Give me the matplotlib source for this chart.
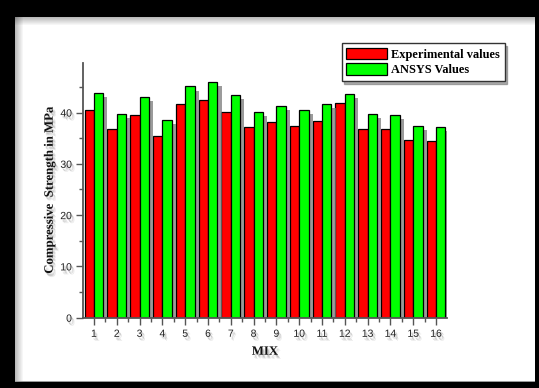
import numpy as np
import matplotlib
matplotlib.use("Agg")
import matplotlib.pyplot as plt
import matplotlib.patheffects as pe
import matplotlib.colors as mcolors
from matplotlib.transforms import Affine2D
from matplotlib.patches import Rectangle
from matplotlib.ticker import MultipleLocator

# Compressive strength per mix (MPa)
mix = np.arange(1, 17)
experimental = [40.5, 36.8, 39.6, 35.5, 41.7, 42.4, 40.2, 37.1,
                38.1, 37.4, 38.4, 41.9, 36.8, 36.7, 34.7, 34.4]
ansys = [43.9, 39.8, 43.0, 38.6, 45.1, 45.9, 43.5, 40.2,
         41.3, 40.5, 41.6, 43.7, 39.8, 39.6, 37.4, 37.2]
mix_labels = [str(m) for m in mix]
y_ticks = [0, 10, 20, 30, 40]

W, H = 539, 388
fig = plt.figure(figsize=(W / 100, H / 100), dpi=100, facecolor="black")


class SoftShadow(pe.AbstractPathEffect):
    """Gray drop shadow made of a few offset copies (offsets in pixels)."""

    def __init__(self, color="#555555", offsets=((2, -3, 0.2), (3, -4, 0.12), (1.5, -2, 0.12))):
        super().__init__()
        self.color = color
        self.offsets = offsets

    def draw_path(self, renderer, gc, tpath, affine, rgbFace=None):
        for dx, dy, a in self.offsets:
            gc0 = renderer.new_gc()
            gc0.copy_properties(gc)
            gc0.set_foreground(self.color)
            gc0.set_alpha(a)
            rgb = mcolors.to_rgba(self.color, a)
            renderer.draw_path(gc0, tpath, affine + Affine2D().translate(dx, dy), rgb)
            gc0.restore()


text_shadow = [SoftShadow(), pe.Normal()]


# white page inside the black frame, with a soft inner shadow on top/left
def px_rect(x0, y0, x1, y1, **kw):
    fig.patches.append(Rectangle((x0 / W, 1 - y1 / H), (x1 - x0) / W, (y1 - y0) / H,
                                 transform=fig.transFigure, figure=fig, **kw))

px_rect(15, 17, 535, 382, facecolor="white", edgecolor="none", zorder=-10)
for i in range(8):
    a = 0.27 * (1 - i / 8)
    px_rect(15 + i, 17, 16 + i, 382, facecolor=(0, 0, 0, a), edgecolor="none", zorder=-9)
    px_rect(15, 17 + i, 535, 18 + i, facecolor=(0, 0, 0, a), edgecolor="none", zorder=-9)
px_rect(15, 380.5, 535, 382, facecolor="#9a9a9a", edgecolor="none", zorder=-9)

ax = fig.add_axes([83 / W, 1 - 317.7 / H, (447 - 83) / W, (317.7 - 63.3) / H])
ax.set_facecolor("none")

shadow = [pe.SimplePatchShadow(offset=(3, -3), shadow_rgbFace="#7a7a7a", alpha=0.75), pe.Normal()]

w = 0.41
b1 = ax.bar(mix - w / 2, experimental, width=w, color="#ff0000", edgecolor="black",
            linewidth=0.9, label="Experimental values")
b2 = ax.bar(mix + w / 2, ansys, width=w, color="#00ff00", edgecolor="black",
            linewidth=0.9, label="ANSYS Values")
for bar in list(b1) + list(b2):
    bar.set_path_effects(shadow)

ax.set_xlim(0.52, 16.48)
ax.set_ylim(0, 49.6)
ax.set_xticks(mix)
ax.set_xticklabels(mix_labels)
ax.xaxis.set_minor_locator(MultipleLocator(0.5))
ax.set_yticks(y_ticks)
ax.set_yticklabels([str(v) for v in y_ticks])
ax.yaxis.set_minor_locator(MultipleLocator(5))

for s in ["top", "right"]:
    ax.spines[s].set_visible(False)
for s in ["left", "bottom"]:
    ax.spines[s].set_color("#555555")
    ax.spines[s].set_linewidth(1.3)

ax.tick_params(which="major", direction="out", length=5, width=1, color="#555555",
               labelsize=7.5, labelcolor="#222222", pad=3)
ax.tick_params(which="minor", direction="out", length=3, width=1, color="#555555")
for lab in ax.get_xticklabels() + ax.get_yticklabels():
    lab.set_fontfamily("Liberation Sans")
    lab.set_path_effects(text_shadow)

label_font = dict(family="Liberation Serif", weight="bold", size=9.2, color="#111111")
ax.set_ylabel("Compressive  Strength in MPa", fontdict=label_font, path_effects=text_shadow)
ax.yaxis.set_label_coords(-0.075, 0.5)
ax.set_xlabel("MIX", fontdict=label_font, path_effects=text_shadow, labelpad=5)

leg = ax.legend(loc="upper left", bbox_to_anchor=(341.5 / W, 1 - 43.3 / H),
                bbox_transform=fig.transFigure, frameon=True, fancybox=False,
                shadow={"color": "#777777", "alpha": 0.6},
                prop={"family": "Liberation Serif", "weight": "bold", "size": 8.9},
                handlelength=3.3, handleheight=1.0, handletextpad=0.3,
                labelspacing=0.2, borderpad=0.4, borderaxespad=0)
leg.get_frame().set_edgecolor("#333333")
leg.get_frame().set_linewidth(1.0)
for h in leg.legend_handles:
    h.set_path_effects([])

fig.savefig("out.png", dpi=100, facecolor="black")
